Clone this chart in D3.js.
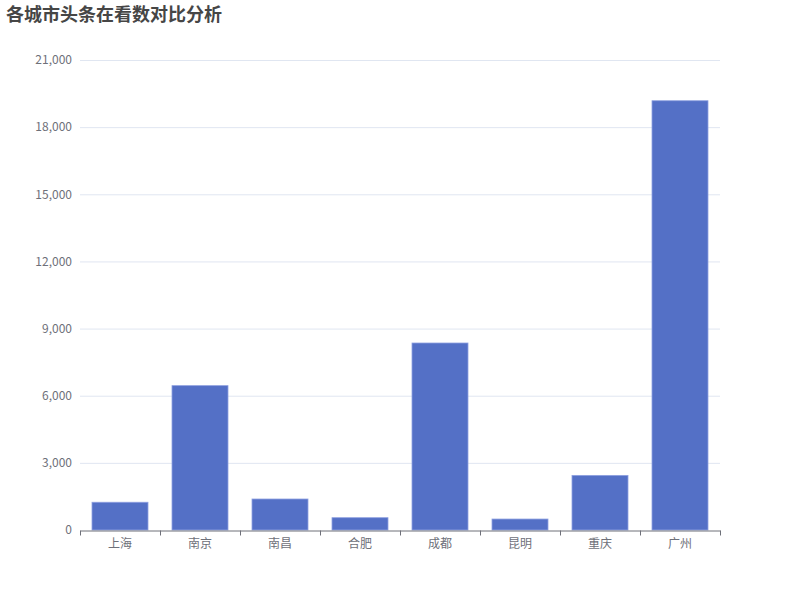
<!DOCTYPE html>
<html>
<head>
<meta charset="utf-8">
<script src="https://cdn.jsdelivr.net/npm/d3@7"></script>
<style>
  body { margin: 0; background: #fff; }
  text { font-family: "Noto Sans CJK SC", "Microsoft YaHei", sans-serif; }
</style>
</head>
<body>
<div id="chart"></div>
<script>
var title = '各城市头条在看数对比分析';
var cities = ['上海', '南京', '南昌', '合肥', '成都', '昆明', '重庆', '广州'];
var views = [1240, 6450, 1385, 550, 8355, 490, 2440, 19180];
var yTicks = [0, 3000, 6000, 9000, 12000, 15000, 18000, 21000];

var width = 800, height = 600;
var margin = { top: 60, right: 80, bottom: 70, left: 80 };

var svg = d3.select('#chart').append('svg')
  .attr('width', width)
  .attr('height', height);

svg.append('text')
  .attr('x', 6)
  .attr('y', 21)
  .attr('font-size', 18)
  .attr('font-weight', 'bold')
  .attr('fill', '#464646')
  .text(title);

var x = d3.scaleBand()
  .domain(cities)
  .range([margin.left, width - margin.right])
  .paddingInner(0.3)
  .paddingOuter(0.15);

var band = d3.scaleBand()
  .domain(cities)
  .range([margin.left, width - margin.right]);

var y = d3.scaleLinear()
  .domain([0, 21000])
  .range([height - margin.bottom, margin.top]);

// grid lines
svg.append('g')
  .selectAll('line')
  .data(yTicks.slice(1))
  .enter().append('line')
  .attr('x1', margin.left)
  .attr('x2', width - margin.right)
  .attr('y1', function (d) { return y(d) + 0.5; })
  .attr('y2', function (d) { return y(d) + 0.5; })
  .attr('stroke', '#e0e6f1');

// y axis labels
var yAxis = svg.append('g')
  .attr('transform', 'translate(' + margin.left + ',0)')
  .call(d3.axisLeft(y).tickValues(yTicks).tickSize(0).tickPadding(8).tickFormat(d3.format(',')));
yAxis.select('.domain').remove();
yAxis.selectAll('text')
  .attr('fill', '#6e7079')
  .attr('font-size', 12);

// bars
svg.append('g')
  .selectAll('rect')
  .data(views)
  .enter().append('rect')
  .attr('x', function (d, i) { return x(cities[i]); })
  .attr('y', function (d) { return y(d); })
  .attr('width', x.bandwidth())
  .attr('height', function (d) { return y(0) - y(d); })
  .attr('fill', '#5470c6')
  .attr('stroke', '#8ea0e0')
  .attr('stroke-width', 0.8);

// x axis
var xAxis = svg.append('g')
  .attr('transform', 'translate(0,' + (y(0) + 0.5) + ')')
  .call(d3.axisBottom(band).tickSize(0).tickPadding(9));
xAxis.select('.domain').attr('stroke', '#6e7079');
xAxis.selectAll('text')
  .attr('fill', '#6e7079')
  .attr('font-size', 12);

// ticks on band boundaries
var bounds = cities.map(function (c) { return band(c); }).concat([width - margin.right]);
xAxis.selectAll('.bound')
  .data(bounds)
  .enter().append('line')
  .attr('class', 'bound')
  .attr('x1', function (d) { return d + 0.5; })
  .attr('x2', function (d) { return d + 0.5; })
  .attr('y1', 0)
  .attr('y2', 5)
  .attr('stroke', '#6e7079');
</script>
</body>
</html>
